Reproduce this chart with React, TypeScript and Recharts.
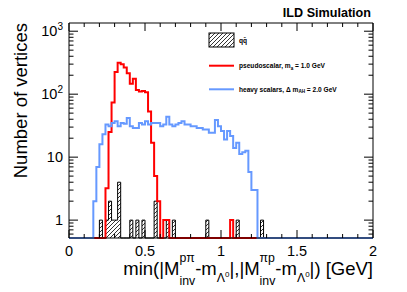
import React from 'react';
import { ComposedChart, Line, Area, XAxis, YAxis } from 'recharts';

const W = 407;
const H = 292;
const PLOT = { left: 69, top: 23, right: 373, bottom: 238 };
const AX = { bottom: 20, top: 5, left: 20, right: 5 };

const FONT = '"Liberation Sans", Arial, Helvetica, sans-serif';
const RED = '#ff0000';
const BLUE = '#6699ff';

// histogram binning: 100 bins of 0.02 GeV between 0 and 2
const BIN_WIDTH = 0.02;
const N_BINS = 100;
const Y_MIN = 0.52;
const Y_MAX = 1350;

// qq background (bin index, entries)
const QQ_BINS = [10, 12, 13, 14, 15, 16, 20, 22, 24, 28, 32, 34, 45, 55, 63];
const QQ_COUNTS = [1, 1, 2, 1, 1, 4, 1, 1, 1, 2, 1, 1, 1, 1, 1];

// pseudoscalar, m_a = 1.0 GeV (first bin index 12)
const RED_FIRST_BIN = 12;
const RED_COUNTS = [
  3.2, 25, 74, 225, 315, 300, 265, 215, 147, 175, 116, 110, 112, 107, 53, 17, 5, 2, 0, 1, 1,
  0, 0, 0, 0, 0, 0, 0, 0, 0, 0, 0, 0, 0, 0, 0, 0, 0, 0, 0, 0,
  1,
];

// heavy scalars, Delta m_AH = 2.0 GeV (first bin index 8)
const BLUE_FIRST_BIN = 8;
const BLUE_COUNTS = [
  2, 7, 16, 23, 33, 31, 35, 37, 31, 35, 34, 42, 31, 29, 29, 35, 33, 37, 33, 35,
  35, 35, 31, 33, 44, 33, 31, 33, 35, 37, 33, 33, 31, 31, 29, 29, 27.5, 27.5, 24.5, 24.5,
  39, 31, 26, 19, 26, 21.6, 14, 17, 11.2, 12, 12.6, 5.8, 3, 3,
];

const X_TICKS = [0, 0.1, 0.2, 0.3, 0.4, 0.5, 0.6, 0.7, 0.8, 0.9, 1, 1.1, 1.2, 1.3, 1.4, 1.5, 1.6, 1.7, 1.8, 1.9, 2];
const X_MAJOR_LABELS: Record<string, string> = { '0': '0', '0.5': '0.5', '1': '1', '1.5': '1.5', '2': '2' };

const Y_TICKS = [
  0.6, 0.7, 0.8, 0.9, 1, 2, 3, 4, 5, 6, 7, 8, 9, 10, 20, 30, 40, 50, 60, 70, 80, 90,
  100, 200, 300, 400, 500, 600, 700, 800, 900, 1000,
];
const Y_MAJOR_LABELS: Record<string, [string, string]> = {
  '1': ['1', ''],
  '10': ['10', ''],
  '100': ['10', '2'],
  '1000': ['10', '3'],
};

const valueAt = (first: number, counts: number[], k: number) => {
  const i = k - first;
  return i >= 0 && i < counts.length ? counts[i] : 0;
};
const qqAt = (k: number) => {
  const i = QQ_BINS.indexOf(k);
  return i >= 0 ? QQ_COUNTS[i] : 0;
};
const floorLog = (v: number) => (v > 0 ? v : Y_MIN);

const rows = Array.from({ length: N_BINS + 1 }, (_, i) => {
  const k = Math.min(i, N_BINS - 1);
  return {
    x: i * BIN_WIDTH,
    qq: floorLog(qqAt(k)),
    red: floorLog(valueAt(RED_FIRST_BIN, RED_COUNTS, k)),
    blue: floorLog(valueAt(BLUE_FIRST_BIN, BLUE_COUNTS, k)),
  };
});

const keyOf = (v: number) => String(Math.round(v * 1000) / 1000);

const XTick = (side: 'bottom' | 'top') => (props: any) => {
  const { x, y, payload } = props;
  const label = X_MAJOR_LABELS[keyOf(payload.value)];
  const len = label !== undefined ? 8 : 4;
  const dir = side === 'bottom' ? -1 : 1;
  return (
    <g>
      <line x1={x} x2={x} y1={y} y2={y + dir * len} stroke="#000" strokeWidth={1} />
      {side === 'bottom' && label !== undefined && (
        <text x={x} y={y + 18} textAnchor="middle" fontFamily={FONT} fontSize={14.5} fill="#000">
          {label}
        </text>
      )}
    </g>
  );
};

const YTick = (side: 'left' | 'right') => (props: any) => {
  const { x, y, payload } = props;
  const label = Y_MAJOR_LABELS[keyOf(payload.value)];
  const len = label !== undefined ? 9 : 4.5;
  const dir = side === 'left' ? 1 : -1;
  return (
    <g>
      <line x1={x} x2={x + dir * len} y1={y} y2={y} stroke="#000" strokeWidth={1} />
      {side === 'left' && label !== undefined && (
        <text x={x - 6} y={y} dy="0.36em" textAnchor="end" fontFamily={FONT} fontSize={14.5} fill="#000">
          {label[0]}
          {label[1] && (
            <tspan dy={-6} fontSize={10}>
              {label[1]}
            </tspan>
          )}
        </text>
      )}
    </g>
  );
};

const Stack = ({ sup, sub }: { sup: string; sub: string }) => (
  <span style={{ display: 'inline-block', position: 'relative', top: 10.5, fontSize: 12.3, lineHeight: '12px' }}>
    {sub}
    <span style={{ position: 'absolute', left: 0, top: -23.5, whiteSpace: 'nowrap' }}>{sup}</span>
  </span>
);

const LambdaSub = () => (
  <span style={{ position: 'relative', top: 7, fontSize: 12.3 }}>
    Λ<span style={{ position: 'relative', top: -5, fontSize: 8 }}>0</span>
  </span>
);

export default function App() {
  return (
    <div style={{ position: 'absolute', left: 0, top: 0, width: W, height: H, background: '#fff', overflow: 'hidden' }}>
      <svg width={0} height={0} style={{ position: 'absolute' }}>
        <defs>
          <pattern id="qqHatch" patternUnits="userSpaceOnUse" width={4} height={4}>
            <path d="M-1,1 L1,-1 M0,4 L4,0 M3,5 L5,3" stroke="#000" strokeWidth={0.8} />
          </pattern>
        </defs>
      </svg>
      <ComposedChart
        width={W}
        height={H}
        data={rows}
        margin={{
          top: PLOT.top - AX.top,
          right: W - PLOT.right - AX.right,
          bottom: H - PLOT.bottom - AX.bottom,
          left: PLOT.left - AX.left,
        }}
      >
        <XAxis
          xAxisId="bottom"
          dataKey="x"
          type="number"
          domain={[0, 2]}
          ticks={X_TICKS}
          interval={0}
          height={AX.bottom}
          tickSize={0}
          tickMargin={0}
          tickLine={false}
          axisLine={{ stroke: '#000', strokeWidth: 1 }}
          tick={XTick('bottom')}
        />
        <XAxis
          xAxisId="top"
          orientation="top"
          dataKey="x"
          type="number"
          domain={[0, 2]}
          ticks={X_TICKS}
          interval={0}
          height={AX.top}
          tickSize={0}
          tickMargin={0}
          tickLine={false}
          axisLine={{ stroke: '#000', strokeWidth: 1 }}
          tick={XTick('top')}
        />
        <YAxis
          yAxisId="left"
          type="number"
          scale="log"
          domain={[Y_MIN, Y_MAX]}
          ticks={Y_TICKS}
          interval={0}
          width={AX.left}
          tickSize={0}
          tickMargin={0}
          tickLine={false}
          axisLine={{ stroke: '#000', strokeWidth: 1 }}
          tick={YTick('left')}
        />
        <YAxis
          yAxisId="right"
          orientation="right"
          type="number"
          scale="log"
          domain={[Y_MIN, Y_MAX]}
          ticks={Y_TICKS}
          interval={0}
          width={AX.right}
          tickSize={0}
          tickMargin={0}
          tickLine={false}
          axisLine={{ stroke: '#000', strokeWidth: 1 }}
          tick={YTick('right')}
        />
        <Area
          xAxisId="bottom"
          yAxisId="left"
          dataKey="qq"
          type="stepAfter"
          baseValue={Y_MIN}
          stroke="#000"
          strokeWidth={1}
          fill="url(#qqHatch)"
          fillOpacity={1}
          isAnimationActive={false}
          dot={false}
          activeDot={false}
        />
        <Area
          xAxisId="top"
          yAxisId="right"
          dataKey="qq"
          type="stepAfter"
          stroke="none"
          fill="none"
          isAnimationActive={false}
          dot={false}
          activeDot={false}
        />
        <Line
          xAxisId="bottom"
          yAxisId="left"
          dataKey="red"
          type="stepAfter"
          stroke={RED}
          strokeWidth={2}
          strokeLinejoin="miter"
          dot={false}
          activeDot={false}
          isAnimationActive={false}
        />
        <Line
          xAxisId="bottom"
          yAxisId="left"
          dataKey="blue"
          type="stepAfter"
          stroke={BLUE}
          strokeWidth={2}
          strokeLinejoin="miter"
          dot={false}
          activeDot={false}
          isAnimationActive={false}
        />
      </ComposedChart>

      <svg width={W} height={H} style={{ position: 'absolute', left: 0, top: 0, pointerEvents: 'none' }}>
        <text x={371} y={17} textAnchor="end" fontFamily={FONT} fontWeight="bold" fontSize={12.6} fill="#000">
          ILD Simulation
        </text>
        <text
          transform="rotate(-90)"
          x={-PLOT.top}
          y={27}
          textAnchor="end"
          fontFamily={FONT}
          fontSize={18.5}
          fill="#000"
        >
          Number of vertices
        </text>
        {/* legend */}
        <rect x={209} y={33} width={25} height={14} fill="url(#qqHatch)" stroke="#000" strokeWidth={1} />
        <text x={239} y={42.5} fontFamily={FONT} fontWeight="bold" fontSize={6.6} fill="#000">
          qq̄
        </text>
        <line x1={209} x2={234} y1={65.7} y2={65.7} stroke={RED} strokeWidth={2} />
        <text x={239} y={68} fontFamily={FONT} fontWeight="bold" fontSize={6.6} fill="#000">
          pseudoscalar, m<tspan dy={1.8} fontSize={4.6}>a</tspan>
          <tspan dy={-1.8}> = 1.0 GeV</tspan>
        </text>
        <line x1={209} x2={234} y1={89.3} y2={89.3} stroke={BLUE} strokeWidth={2} />
        <text x={239} y={91.6} fontFamily={FONT} fontWeight="bold" fontSize={6.6} fill="#000">
          heavy scalars, Δ m<tspan dy={1.8} fontSize={4.6}>AH</tspan>
          <tspan dy={-1.8}> = 2.0 GeV</tspan>
        </text>
      </svg>

      <div
        style={{
          position: 'absolute',
          right: W - PLOT.right,
          top: 275 - 13.4,
          fontFamily: FONT,
          fontSize: 18.5,
          lineHeight: '14px',
          whiteSpace: 'nowrap',
          color: '#000',
        }}
      >
        min(|M<Stack sup="pπ" sub="inv" />-m<LambdaSub />|,|M<Stack sup="πp" sub="inv" />-m<LambdaSub />|) [GeV]
      </div>
    </div>
  );
}
